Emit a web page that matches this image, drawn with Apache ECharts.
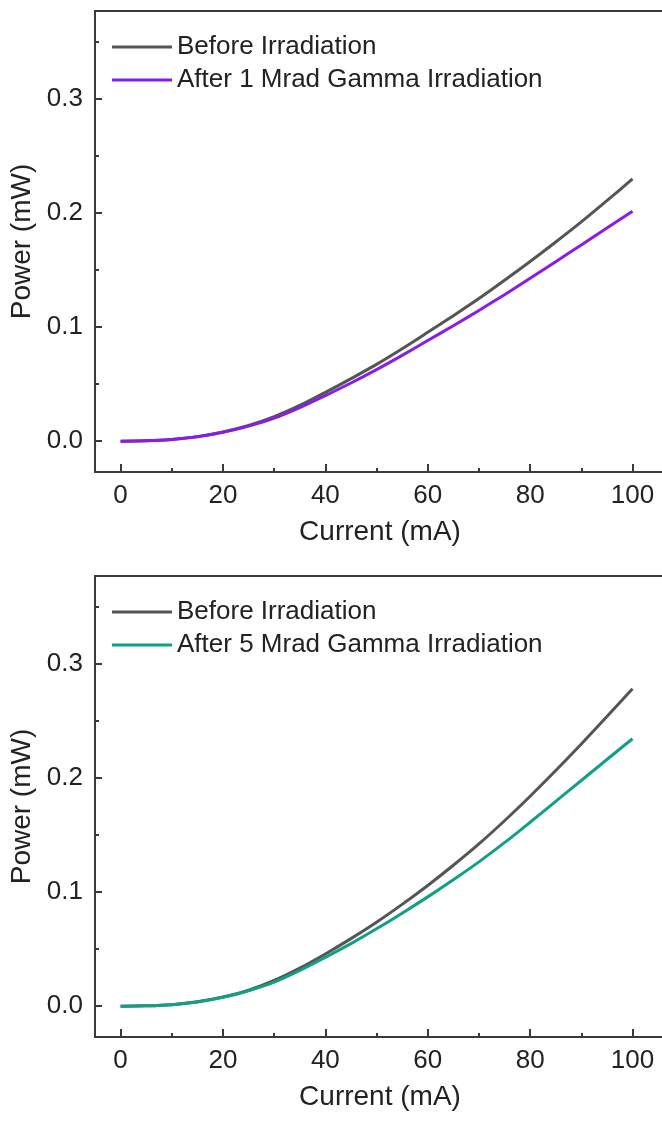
<!DOCTYPE html>
<html>
<head>
<meta charset="utf-8">
<script src="https://cdn.jsdelivr.net/npm/echarts@6/dist/echarts.min.js"></script>
<style>
    html, body { margin: 0; padding: 0; background: #fff; }
    #chart { width: 662px; height: 1121px; }
</style>
</head>
<body>
<div id="chart"></div>
<script>
//数据
const current = [0, 5, 10, 15, 20, 25, 30, 35, 40, 45, 50, 55, 60, 65, 70, 75, 80, 85, 90, 95, 100];
const before1 = [0, 0.0003, 0.0015, 0.0040, 0.0081, 0.0138, 0.0215, 0.0313, 0.0428, 0.0548, 0.0673, 0.0810, 0.0954, 0.1100, 0.1250, 0.1410, 0.1575, 0.1746, 0.1922, 0.2108, 0.2298];
const after1 = [0, 0.0003, 0.0015, 0.0038, 0.0078, 0.0132, 0.0202, 0.0295, 0.0400, 0.0510, 0.0627, 0.0752, 0.0882, 0.1012, 0.1146, 0.1284, 0.1427, 0.1573, 0.1720, 0.1868, 0.2015];
const before5 = [0, 0.0003, 0.0013, 0.0038, 0.0080, 0.0140, 0.0226, 0.0334, 0.0458, 0.0592, 0.0736, 0.0892, 0.1058, 0.1235, 0.1422, 0.1625, 0.1840, 0.2065, 0.2298, 0.2538, 0.2782];
const after5 = [0, 0.0003, 0.0013, 0.0037, 0.0078, 0.0135, 0.0210, 0.0313, 0.0428, 0.0548, 0.0678, 0.0815, 0.0958, 0.1108, 0.1265, 0.1433, 0.1612, 0.1795, 0.1978, 0.2162, 0.2344];

//刻度
const xMajor = [0, 20, 40, 60, 80, 100];
const xMinor = [10, 30, 50, 70, 90];
const yMajor = [0, 0.1, 0.2, 0.3];
const yMinor = [0.05, 0.15, 0.25, 0.35];

const legendNames1 = ['Before Irradiation', 'After 1 Mrad Gamma Irradiation'];
const legendNames2 = ['Before Irradiation', 'After 5 Mrad Gamma Irradiation'];

const font = '"Liberation Sans", Arial, sans-serif';
const axisColor = '#3a3a3a';
const textColor = '#222';
const grayColor = '#555555';
const purpleColor = '#8a1ce8';
const tealColor = '#10a086';

function pairs(xs, ys) {
    return xs.map(function (x, i) { return [x, ys[i]]; });
}

function xAxes(gridIndex) {
    return [
        {
            type: 'value', gridIndex: gridIndex, min: -5, max: 108.3,
            name: 'Current (mA)', nameLocation: 'middle', nameGap: 46,
            nameTextStyle: { fontFamily: font, fontSize: 28, color: textColor, padding: [0, 10, 0, 0] },
            axisLine: { show: true, onZero: false, lineStyle: { color: axisColor, width: 2 } },
            axisTick: { show: true, inside: true, length: 8, customValues: xMajor, lineStyle: { color: axisColor, width: 2 } },
            axisLabel: { show: true, customValues: xMajor, margin: 11, fontFamily: font, fontSize: 26, color: textColor },
            splitLine: { show: false }
        },
        {
            type: 'value', gridIndex: gridIndex, min: -5, max: 108.3, position: 'bottom',
            axisLine: { show: false, onZero: false },
            axisTick: { show: true, inside: true, length: 4, customValues: xMinor, lineStyle: { color: axisColor, width: 2 } },
            axisLabel: { show: false },
            splitLine: { show: false }
        }
    ];
}

function yAxes(gridIndex) {
    return [
        {
            type: 'value', gridIndex: gridIndex, min: -0.027, max: 0.377,
            name: 'Power (mW)', nameLocation: 'middle', nameGap: 47,
            nameTextStyle: { fontFamily: font, fontSize: 28, color: textColor },
            axisLine: { show: true, onZero: false, lineStyle: { color: axisColor, width: 2 } },
            axisTick: { show: true, inside: true, length: 7, customValues: yMajor, lineStyle: { color: axisColor, width: 2 } },
            axisLabel: {
                show: true, customValues: yMajor, margin: 12, fontFamily: font, fontSize: 26, color: textColor,
                formatter: function (v) { return v.toFixed(1); }
            },
            splitLine: { show: false }
        },
        {
            type: 'value', gridIndex: gridIndex, min: -0.027, max: 0.377, position: 'left',
            axisLine: { show: false, onZero: false },
            axisTick: { show: true, inside: true, length: 4, customValues: yMinor, lineStyle: { color: axisColor, width: 2 } },
            axisLabel: { show: false },
            splitLine: { show: false }
        }
    ];
}

function legend(top, names) {
    return {
        orient: 'vertical', left: 107, top: top,
        icon: 'rect', itemWidth: 60, itemHeight: 3, itemGap: 7,
        data: names,
        textStyle: { fontFamily: font, fontSize: 26, color: textColor }
    };
}

function line(name, xIdx, yIdx, data, color) {
    return {
        name: name, type: 'line', xAxisIndex: xIdx, yAxisIndex: yIdx,
        data: data, smooth: 0.3, showSymbol: false, symbol: 'none',
        lineStyle: { color: color, width: 3 },
        itemStyle: { color: color },
        z: 3
    };
}

let chart = echarts.init(document.getElementById('chart'), null, { renderer: 'canvas' });

let option = {
    backgroundColor: '#fff',
    animation: false,
    grid: [
        { left: 95, top: 11, width: 580, height: 461, outerBoundsMode: 'none', show: true, borderColor: axisColor, borderWidth: 2 },
        { left: 95, top: 576, width: 580, height: 461, outerBoundsMode: 'none', show: true, borderColor: axisColor, borderWidth: 2 }
    ],
    legend: [legend(29, legendNames1), legend(594, legendNames2)],
    xAxis: xAxes(0).concat(xAxes(1)),
    yAxis: yAxes(0).concat(yAxes(1)),
    series: [
        line('Before Irradiation', 0, 0, pairs(current, before1), grayColor),
        line('After 1 Mrad Gamma Irradiation', 0, 0, pairs(current, after1), purpleColor),
        line('Before Irradiation', 2, 2, pairs(current, before5), grayColor),
        line('After 5 Mrad Gamma Irradiation', 2, 2, pairs(current, after5), tealColor)
    ]
};
chart.setOption(option);
</script>
</body>
</html>
